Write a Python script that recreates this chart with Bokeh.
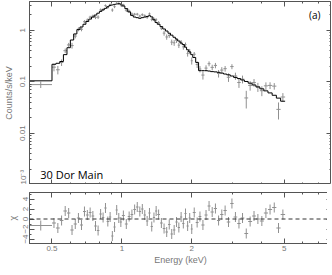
import numpy as np
from bokeh.plotting import figure
from bokeh.models import (FixedTicker, Label, Span, CustomJSTickFormatter,
                          LogAxis, LinearAxis, Range1d)
from bokeh.layouts import column
from bokeh.embed import file_html
from bokeh.resources import INLINE

# ---------------- data ----------------
edges = [0.40, 0.50, 0.52, 0.54, 0.56, 0.58, 0.60, 0.62, 0.64, 0.66, 0.68, 0.70,
         0.72, 0.74, 0.76, 0.78, 0.80, 0.82, 0.84, 0.86, 0.88, 0.90, 0.92, 0.94,
         0.96, 0.98, 1.00,
         1.03, 1.06, 1.09, 1.12, 1.15, 1.18, 1.21, 1.24, 1.27, 1.30, 1.33, 1.36,
         1.39, 1.42,
         1.46, 1.50, 1.54, 1.58, 1.62, 1.66, 1.70, 1.74, 1.78, 1.82, 1.86, 1.90,
         1.94, 1.98, 2.02,
         2.08, 2.14, 2.20, 2.27, 2.34, 2.41, 2.49, 2.57, 2.65, 2.74, 2.83, 2.93,
         3.03, 3.14, 3.25, 3.37, 3.50, 3.64, 3.78, 3.93, 4.09, 4.26, 4.44, 4.63,
         4.83, 5.05]

model = [0.104, 0.218, 0.228, 0.247, 0.336, 0.458, 0.647, 0.849, 1.03, 1.16,
         1.31, 1.48, 1.65, 1.81, 1.98, 2.15, 2.33, 2.49, 2.67, 2.87,
         3.05, 3.11, 3.19, 3.25, 3.28, 3.23,
         2.97, 2.64, 2.28, 1.95, 1.81, 1.76, 1.71, 1.76, 1.81, 1.85, 1.92, 1.82,
         1.60, 1.42,
         1.31, 1.18, 1.06, 0.968, 0.877, 0.804, 0.732, 0.674, 0.618, 0.565, 0.529,
         0.469, 0.418, 0.379, 0.336,
         0.296, 0.237, 0.164, 0.164, 0.164, 0.161, 0.157, 0.155, 0.152, 0.147,
         0.141, 0.136, 0.129, 0.121, 0.115, 0.108, 0.101, 0.0936, 0.0863, 0.0791,
         0.0726, 0.0663, 0.0605, 0.0544, 0.0479, 0.0417]

rel_err = [0.12, 0.15, 0.14, 0.14, 0.12, 0.11, 0.10, 0.09, 0.09, 0.08,
           0.08, 0.08, 0.07, 0.07, 0.07, 0.07, 0.07, 0.06, 0.06, 0.06,
           0.06, 0.06, 0.06, 0.06, 0.06, 0.06,
           0.06, 0.07, 0.07, 0.07, 0.07, 0.07, 0.07, 0.07, 0.07, 0.07, 0.07, 0.07,
           0.08, 0.08,
           0.08, 0.08, 0.09, 0.09, 0.09, 0.09, 0.10, 0.10, 0.10, 0.10, 0.11, 0.11,
           0.11, 0.12, 0.12,
           0.12, 0.13, 0.15, 0.15, 0.15, 0.15, 0.15, 0.16, 0.16, 0.16, 0.16, 0.17,
           0.17, 0.17, 0.18, 0.18, 0.18, 0.19, 0.19, 0.20, 0.20, 0.21, 0.21, 0.22,
           0.22, 0.23]

chi = [-1.3, -0.8, -1.8, -0.3, 1.6, 1.2, -2.2, -1.0, 0.2, -1.2,
       1.5, 0.8, 1.3, 0.6, -1.4, -2.3, 1.0, 0.3, 2.2, -0.5,
       0.4, -3.4, -1.6, 1.8, 0.2, -0.6,
       0.7, -1.0, 0.5, 0.9, 1.9, 2.4, 1.5, 2.0, 0.8, -0.4, 1.2, -1.5, 0.3, 1.6,
       0.9, -0.8, -1.9, -2.6, -1.1, -3.0, -2.2, -0.6, -1.7, 0.4, -0.9, 1.1, -1.4,
       0.2, -2.0,
       1.3, -0.7, 0.5, -1.2, 0.8, 2.6, 1.4, 2.1, -0.3, 0.9, 1.7, -0.6, 3.1, 0.4,
       -0.9, 0.2, -2.9, -0.5, 0.6, 0.0, -0.4, 1.2, 1.9, 2.3, -1.8, 0.9]

x_ticks = [0.5, 1, 2, 5]
x_tick_labels = ["0.5", "1", "2", "5"]
x_minor = [0.4, 0.6, 0.7, 0.8, 0.9, 3, 4, 6, 7, 8]
y_ticks = [0.001, 0.01, 0.1, 1]
y_tick_labels = ["10\u207b\u00b3", "0.01", "0.1", "1"]
chi_ticks = [-4, -2, 0, 2, 4]
chi_minor = [-5, -3, -1, 1, 3, 5]

X_MIN, X_MAX = 0.4, 8.0
Y_MIN, Y_MAX = 0.001, 3.63
C_MIN, C_MAX = -4.9, 5.3

# ---------------- derived arrays ----------------
e = np.array(edges)
lo, hi = e[:-1], e[1:]
cen = np.sqrt(lo * hi)
m = np.array(model)
err = np.array(rel_err) * m
c = np.array(chi)
data = m + c * err

y_minor = [k * 10.0 ** d for d in (-3, -2, -1, 0) for k in range(2, 10)]

GREY = "#909090"
AX = "#555555"
LBL = "#777777"
TF = "Liberation Sans"
blank = CustomJSTickFormatter(code="return ''")

xr = Range1d(X_MIN, X_MAX)


def style(ax, labels=True):
    ax.axis_line_color = AX
    ax.major_tick_line_color = AX
    ax.minor_tick_line_color = AX
    ax.major_tick_in = 5
    ax.major_tick_out = 0
    ax.minor_tick_in = 2
    ax.minor_tick_out = 0
    ax.major_label_text_font = TF
    ax.major_label_text_font_size = "8px"
    ax.major_label_text_color = LBL
    ax.axis_label_text_font = TF
    ax.axis_label_text_font_size = "9px"
    ax.axis_label_text_font_style = "normal"
    ax.axis_label_text_color = LBL
    ax.major_label_standoff = 2
    ax.axis_label_standoff = 2
    if not labels:
        ax.formatter = blank
        ax.major_label_standoff = 0
        ax.major_label_text_color = None


# ---------------- top panel ----------------
p1 = figure(frame_width=302, frame_height=183, x_axis_type="log", y_axis_type="log",
            x_range=xr, y_range=Range1d(Y_MIN, Y_MAX),
            output_backend="svg", toolbar_location=None,
            min_border_left=21, min_border_right=0,
            min_border_top=1, min_border_bottom=0)
p1.xgrid.visible = False
p1.ygrid.visible = False
p1.outline_line_color = AX
p1.background_fill_color = "white"

p1.segment(lo, data, hi, data, line_color=GREY, line_width=1)
p1.segment(cen, data - err, cen, data + err, line_color=GREY, line_width=1)
p1.step(list(edges), list(model) + [model[-1]], mode="after",
        line_color="black", line_width=1)

xt = FixedTicker(ticks=x_ticks, minor_ticks=x_minor)
yt = FixedTicker(ticks=y_ticks, minor_ticks=y_minor)

p1.xaxis.ticker = xt
style(p1.xaxis[0], labels=False)
p1.xaxis[0].fixed_location = Y_MIN
p1.yaxis.ticker = yt
p1.yaxis.major_label_overrides = dict(zip(y_ticks, y_tick_labels))
p1.yaxis.major_label_orientation = "vertical"
p1.yaxis.axis_label = "Counts/s/keV"
style(p1.yaxis[0])

ax_top = LogAxis(ticker=xt, fixed_location=Y_MAX)
style(ax_top, labels=False)
p1.add_layout(ax_top, "above")
ax_r = LogAxis(ticker=yt, fixed_location=X_MAX)
style(ax_r, labels=False)
p1.add_layout(ax_r, "right")

p1.add_layout(Label(x=0.445, y=0.00158, text="30 Dor Main", text_font="Open Sans",
                    text_font_size="11px", text_color="black",
                    text_baseline="middle"))
p1.add_layout(Label(x=6.4, y=2.0, text="(a)", text_font="Open Sans",
                    text_font_size="10px", text_color="black",
                    text_baseline="middle"))

# ---------------- residual panel ----------------
p2 = figure(frame_width=302, frame_height=51, x_axis_type="log",
            x_range=xr, y_range=Range1d(C_MIN, C_MAX),
            output_backend="svg", toolbar_location=None,
            min_border_left=21, min_border_right=0,
            min_border_top=8, min_border_bottom=24)
p2.xgrid.visible = False
p2.ygrid.visible = False
p2.outline_line_color = AX

p2.add_layout(Span(location=0, dimension="width", line_color="#333333",
                   line_dash="4 3", line_width=1))
p2.segment(lo, c, hi, c, line_color=GREY, line_width=1)
p2.segment(cen, c - 1, cen, c + 1, line_color=GREY, line_width=1)

ct = FixedTicker(ticks=chi_ticks, minor_ticks=chi_minor)
p2.xaxis.ticker = xt
p2.xaxis.major_label_overrides = dict(zip(x_ticks, x_tick_labels))
p2.xaxis.axis_label = "Energy (keV)"
style(p2.xaxis[0])
p2.xaxis.axis_label_standoff = 1
p2.yaxis.ticker = ct
p2.yaxis.major_label_orientation = "vertical"
p2.yaxis.axis_label = "\u03c7"
style(p2.yaxis[0])

ax_top2 = LogAxis(ticker=xt, fixed_location=C_MAX)
style(ax_top2, labels=False)
p2.add_layout(ax_top2, "above")
ax_r2 = LinearAxis(ticker=ct, fixed_location=X_MAX)
style(ax_r2, labels=False)
p2.add_layout(ax_r2, "right")

layout = column(p1, p2)
open("out.html", "w").write(file_html(layout, INLINE))
